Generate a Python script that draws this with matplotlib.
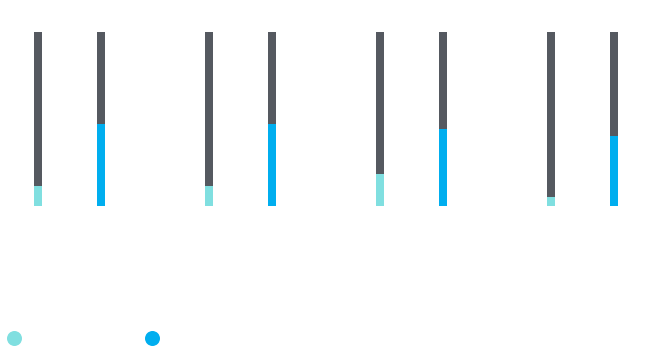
import matplotlib
matplotlib.use('Agg')
import matplotlib.pyplot as plt
from matplotlib.lines import Line2D
import numpy as np

# data (percent of total, remainder drawn in gray)
categories = ['A', 'B', 'C', 'D']
series_a = [11.7, 11.7, 18.4, 5.0]
series_b = [46.9, 46.9, 44.1, 40.2]
total = 100

col_a = '#80dfe0'
col_b = '#00aeef'
col_rest = '#555960'

fig = plt.figure(figsize=(6.5, 3.51), dpi=100)
ax = fig.add_axes([0, (351-206)/351, 1, (206-32)/351])

x = np.arange(len(categories))
off = 0.186
w = 0.047

a = np.array(series_a)
b = np.array(series_b)
ax.bar(x - off, a, w, color=col_a, linewidth=0)
ax.bar(x - off, total - a, w, bottom=a, color=col_rest, linewidth=0)
ax.bar(x + off, b, w, color=col_b, linewidth=0)
ax.bar(x + off, total - b, w, bottom=b, color=col_rest, linewidth=0)

ax.set_xlim(-0.406, 3.395)
ax.set_ylim(0, total)
ax.axis('off')

handles = [Line2D([], [], marker='o', linestyle='none', markersize=10.8,
                  markerfacecolor=col_a, markeredgecolor='none'),
           Line2D([], [], marker='o', linestyle='none', markersize=10.8,
                  markerfacecolor=col_b, markeredgecolor='none')]
fig.legend(handles, ['', ''], ncol=2, frameon=False, loc='center left',
           bbox_to_anchor=(0.006, 1 - 339/351), handlelength=1.0,
           handletextpad=0.5, columnspacing=8.43, borderaxespad=0,
           borderpad=0.2)

plt.savefig('out.png', dpi=100)
plt.close()
